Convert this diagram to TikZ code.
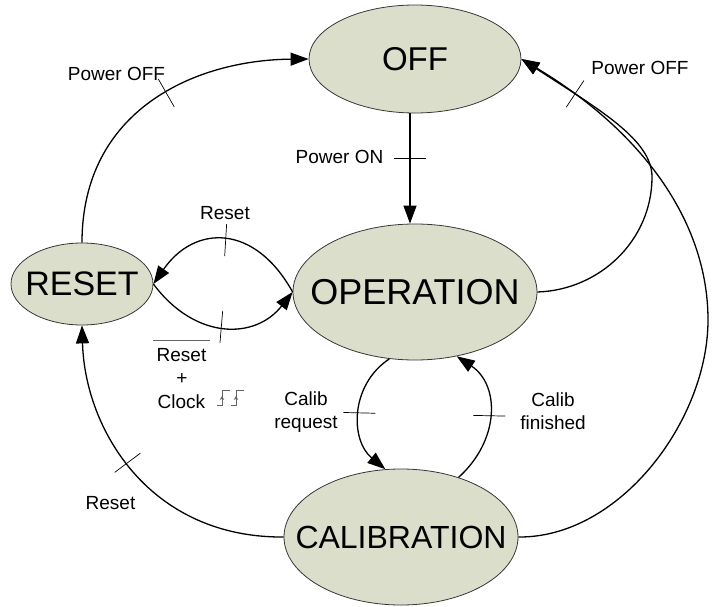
\documentclass[tikz,border=0pt]{standalone}
\usepackage{fontspec}
\setmainfont{Liberation Sans}
\usetikzlibrary{shapes.geometric,arrows.meta,decorations.markings}
\definecolor{statefill}{RGB}{219,222,203}
\definecolor{stateline}{RGB}{55,55,55}
\definecolor{symgray}{RGB}{100,100,100}
\newcommand\zw[1]{\makebox[0pt]{#1}}
\begin{document}
\begin{tikzpicture}[x=1pt,y=-1pt,
  state/.style={ellipse, draw=stateline, line width=0.8pt, fill=statefill,
    inner sep=0pt},
  lbl/.style={font=\fontsize{19}{23.5}\selectfont, anchor=base, inner sep=0pt},
  conn/.style={line width=1.3pt, -{Triangle[length=18pt,width=13pt]}},
  tickat/.style={postaction={decorate}, decoration={markings,
    mark=at position #1 with {\draw[line width=0.7pt,-] (0,-16pt) -- (0,16pt);}}},
  barline/.style={symgray, line width=1pt},
  clk/.style={symgray, line width=0.8pt},
]
\useasboundingbox (0,0) rectangle (712,607);

% states
\node[state, minimum width=212pt, minimum height=108pt, font=\fontsize{33}{38}\selectfont] (off) at (415,59) {\zw{OFF}};
\node[state, minimum width=244pt, minimum height=136pt, font=\fontsize{36}{40}\selectfont] (operation) at (415,292) {\zw{OPERATION}};
\node[state, minimum width=142pt, minimum height=82pt, font=\fontsize{34}{38}\selectfont] (reset) at (82,284) {\zw{RESET}};
\node[state, minimum width=234pt, minimum height=136pt, font=\fontsize{32}{38}\selectfont] (calibration) at (401,537) {\zw{CALIBRATION}};

% transitions
\draw[conn, tickat=0.41] ([xshift=-5pt]off.south) -- ([xshift=-5pt]operation.north);
\draw[conn, tickat=0.55] (reset.north) .. controls (82,110) and (195,60) .. (off.west);
\draw[conn, tickat=0.5] (operation.west) .. controls (255,224) and (195,224) .. (reset.east);
\draw[conn, tickat=0.5] (reset.east) .. controls (195,340) and (255,340) .. (operation.west);
\draw[conn, tickat=0.5] (operation.249) .. controls (350,385) and (350,440) .. (calibration.103);
\draw[conn, tickat=0.5] (calibration.46) .. controls (500,440) and (500,385) .. (operation.303);
\draw[conn, tickat=0.55] (calibration.west) .. controls (150,538) and (85,430) .. (reset.south);
\draw[conn, tickat={-64pt}] (operation.east) .. controls (600,290) and (652,240) .. (652,177)
   .. controls (652,140) and (600,110) .. (off.east);
\draw[conn] (calibration.east) .. controls (620,538) and (708,420) .. (708,320)
   .. controls (708,220) and (640,130) .. (off.east);

% labels
\node[lbl] (lpoweroff) at (116.5,81) {Power OFF};
\node[lbl] (rpoweroff) at (640,75) {Power OFF};
\node[lbl] (poweron) at (339.5,164) {Power ON};
\node[lbl] (resettop) at (225,219) {Reset};
\node[lbl] (resetbar) at (181.5,361) {Reset};
\node[lbl] (plus) at (182,384.5) {+};
\node[lbl] (clock) at (181.5,408) {Clock};
\node[lbl] (calibreq1) at (306,405) {Calib};
\node[lbl] (calibreq2) at (306,428.5) {request};
\node[lbl] (calibfin1) at (553,406) {Calib};
\node[lbl] (calibfin2) at (553,429.5) {finished};
\node[lbl] (resetbl) at (110.5,509) {Reset};

% overline of "Reset"
\draw[barline] ([shift={(-3pt,7pt)}]resetbar.north west) -- ([shift={(3pt,7pt)}]resetbar.north east);

% clock rising-edge symbol
\foreach \k in {0,1} {
  \draw[clk] ({217+14*\k},405) -- ++(5,0) -- ++(0,-15) -- ++(8,0);
  \draw[clk, -{Stealth[length=4pt,width=4.5pt]}] ({222+14*\k},404) -- ++(0,-8);
}
\end{tikzpicture}
\end{document}
